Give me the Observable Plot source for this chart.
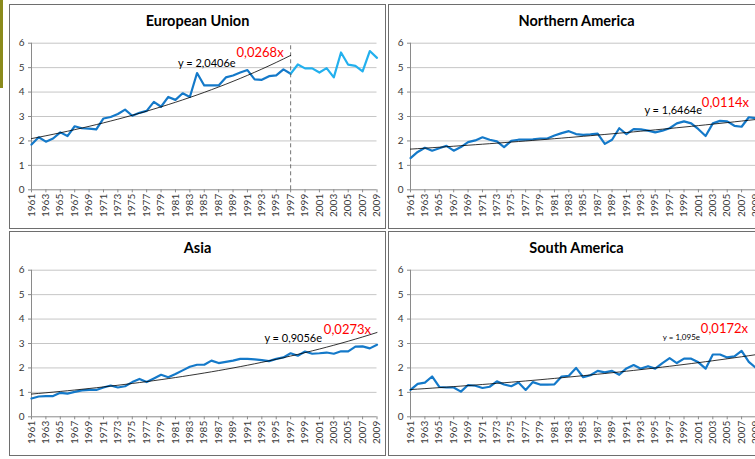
<!DOCTYPE html>
<html><head><meta charset="utf-8">
<script src="https://cdn.jsdelivr.net/npm/d3@7"></script>
<script src="https://cdn.jsdelivr.net/npm/@observablehq/plot@0.6"></script>
<style>
html,body{margin:0;padding:0;background:#fff;overflow:hidden;width:755px;height:459px;}
#root{position:relative;width:755px;height:459px;overflow:hidden;font-family:Lato,sans-serif;}
.panel{position:absolute;width:377px;height:225px;background:#fff;}
.panel .frame{position:absolute;left:0;top:0;right:0;bottom:0;box-sizing:border-box;border:1px solid #6e6e6e;}
.panel .title{position:absolute;left:0;right:0;top:8px;line-height:17px;text-align:center;font-weight:bold;font-size:14.5px;font-family:Lato,sans-serif;color:#000;}
.panel svg{position:absolute;left:0;top:0;}
#olive{position:absolute;left:0;top:0;width:3px;height:88px;background:#8a8a1c;}
</style></head><body><div id="root"><div id="olive"></div></div>
<script>
const years = [1961,1962,1963,1964,1965,1966,1967,1968,1969,1970,1971,1972,1973,1974,1975,1976,1977,1978,1979,1980,1981,1982,1983,1984,1985,1986,1987,1988,1989,1990,1991,1992,1993,1994,1995,1996,1997,1998,1999,2000,2001,2002,2003,2004,2005,2006,2007,2008,2009];
const titles = ["European Union","Northern America","Asia","South America"];
const euValues = [1.85,2.15,1.97,2.10,2.35,2.20,2.60,2.52,2.50,2.47,2.92,2.98,3.10,3.28,3.03,3.15,3.23,3.60,3.40,3.80,3.68,3.95,3.80,4.78,4.27,4.28,4.27,4.60,4.68,4.80,4.90,4.52,4.50,4.65,4.68,4.93,4.75,5.13,4.97,4.97,4.80,4.98,4.60,5.62,5.12,5.07,4.85,5.68,5.40];
const naValues = [1.30,1.55,1.72,1.60,1.70,1.80,1.60,1.75,1.95,2.02,2.15,2.05,1.98,1.75,2.00,2.05,2.05,2.07,2.10,2.10,2.22,2.32,2.40,2.28,2.25,2.27,2.30,1.88,2.05,2.52,2.28,2.48,2.47,2.42,2.35,2.42,2.52,2.72,2.80,2.72,2.48,2.20,2.72,2.82,2.80,2.62,2.58,2.97,2.93];
const asiaValues = [0.75,0.83,0.85,0.85,0.98,0.95,1.02,1.08,1.10,1.10,1.20,1.28,1.20,1.25,1.42,1.55,1.42,1.57,1.72,1.62,1.75,1.90,2.05,2.13,2.13,2.30,2.20,2.25,2.30,2.37,2.37,2.35,2.32,2.28,2.37,2.43,2.60,2.50,2.67,2.58,2.60,2.63,2.58,2.68,2.68,2.87,2.88,2.80,2.95];
const saValues = [1.10,1.35,1.40,1.65,1.22,1.20,1.20,1.03,1.30,1.27,1.18,1.23,1.45,1.32,1.25,1.40,1.10,1.42,1.32,1.32,1.33,1.65,1.68,2.00,1.62,1.70,1.88,1.82,1.88,1.72,1.98,2.12,1.97,2.07,1.97,2.20,2.40,2.20,2.38,2.38,2.23,1.97,2.55,2.55,2.43,2.47,2.70,2.25,2.00];
// exponential trend lines shown on the chart: y = a * e^(b * x), x = 1..n
const trendA = [2.0406, 1.6464, 0.9056, 1.095];
const trendB = [0.0268, 0.0114, 0.0273, 0.0172];
const trendN = [37, 49, 49, 49];
const trendCoefText = ["y = 2,0406e","y = 1,6464e","y = 0,9056e","y = 1,095e"];
const trendExpText = ["0,0268x","0,0114x","0,0273x","0,0172x"];
const euSplitYear = 1997;
const yTicks = [0,1,2,3,4,5,6];

const seriesValues = [euValues, naValues, asiaValues, saValues];
const placements = [[9,4],[388,4],[9,231],[388,231]];
const labelStyle = [
  {cdx:-55, cdy:8, csize:11, edx:-7, edy:-3},
  {cdx:-54, cdy:-9, csize:11, edx:-7, edy:-17},
  {cdx:-55, cdy:6, csize:11, edx:-6, edy:-3},
  {cdx:-56, cdy:-17, csize:8, edx:-8, edy:-26}
];
const root = document.getElementById("root");
const lineBlue = "#1479c9";
const lightBlue = "#22b0ee";
const axisGray = "#8a8a8a";

seriesValues.forEach((vals, k) => {
  const data = years.map((y, i) => ({year: y, value: vals[i]}));
  const trend = years.slice(0, trendN[k]).map((y, i) => ({year: y, value: trendA[k] * Math.exp(trendB[k] * (i + 1))}));
  const endPt = [trend[trend.length - 1]];
  const ls = labelStyle[k];
  const lineMarks = k === 0
    ? [Plot.line(data.filter(d => d.year <= euSplitYear), {x:"year", y:"value", stroke: lineBlue, strokeWidth: 2.2}),
       Plot.line(data.filter(d => d.year >= euSplitYear), {x:"year", y:"value", stroke: lightBlue, strokeWidth: 2.2}),
       Plot.ruleX([euSplitYear], {y1: yTicks[0], y2: yTicks[yTicks.length-1], stroke:"#505050", strokeWidth:0.8, strokeDasharray:"4,3"})]
    : [Plot.line(data, {x:"year", y:"value", stroke: lineBlue, strokeWidth: 2.2})];
  const chart = Plot.plot({
    width: 377, height: 225,
    marginLeft: 22, marginRight: 9.5, marginTop: 38.7, marginBottom: 39.7,
    style: {fontFamily: "Lato, sans-serif", fontSize: "10px", color: "#383838", background: "transparent", overflow: "visible"},
    x: {domain: [years[0], years[years.length-1]], label: null},
    y: {domain: [yTicks[0], yTicks[yTicks.length-1]], label: null},
    marks: [
      Plot.ruleY(yTicks.slice(1), {stroke: "#c6c6c6", strokeWidth: 1}),
      Plot.ruleY([yTicks[0]], {stroke: axisGray}),
      Plot.ruleX([years[0]], {y1: yTicks[0], y2: yTicks[yTicks.length-1], stroke: axisGray}),
      Plot.axisY({ticks: yTicks, tickSize: 3, tickPadding: 4, stroke: axisGray, tickFormat: d => String(d), label: null}),
      Plot.axisX({ticks: years.filter((y, i) => i % 2 === 0), tickFormat: d => String(d), tickRotate: -90, tickSize: 3, tickPadding: 1, stroke: axisGray, label: null}),
      ...lineMarks,
      Plot.line(trend, {x:"year", y:"value", stroke:"#000", strokeWidth: 0.8}),
      Plot.text(endPt, {x:"year", y:"value", text: () => trendCoefText[k], fill:"#000", fontSize: ls.csize, textAnchor:"end", dx: ls.cdx, dy: ls.cdy}),
      Plot.text(endPt, {x:"year", y:"value", text: () => trendExpText[k], fill:"#ff0000", fontSize: 13, textAnchor:"end", dx: ls.edx, dy: ls.edy})
    ]
  });
  const p = document.createElement("div");
  p.className = "panel";
  p.style.left = placements[k][0] + "px";
  p.style.top = placements[k][1] + "px";
  const f = document.createElement("div"); f.className = "frame"; p.appendChild(f);
  p.appendChild(chart);
  const t = document.createElement("div"); t.className = "title"; t.textContent = titles[k]; p.appendChild(t);
  root.appendChild(p);
});
</script>
</body></html>
